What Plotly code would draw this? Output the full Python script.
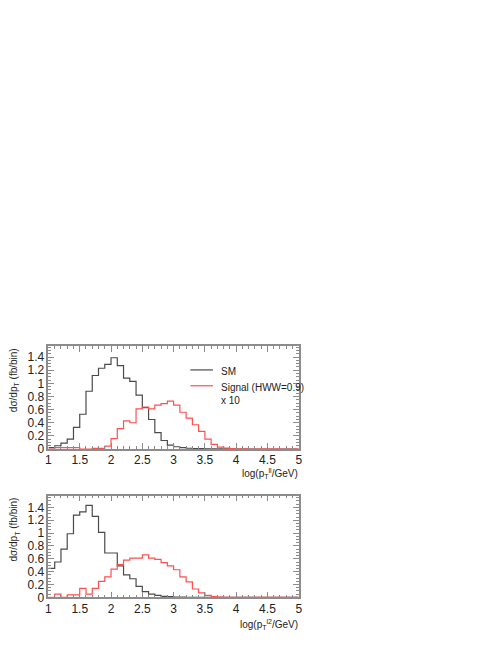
import plotly.graph_objects as go

# bin edges: 40 bins of 0.1 from 1.0 to 5.0
bin_edges = [round(1.0 + 0.1 * i, 1) for i in range(41)]

# upper panel: log(pT^ll/GeV)
sm_ll = [0.02, 0.05, 0.09, 0.15, 0.33, 0.53, 0.88, 1.12, 1.23, 1.29,
         1.39, 1.27, 1.08, 1.03, 0.82, 0.63, 0.45, 0.25, 0.13, 0.06,
         0.035, 0.02, 0.012, 0.008, 0.005, 0.004, 0.003, 0.002, 0.001, 0.001,
         0.0, 0.0, 0.0, 0.0, 0.0, 0.0, 0.0, 0.0, 0.0, 0.0]
sig_ll = [0.0, 0.02, 0.02, 0.02, 0.02, 0.0, 0.0, 0.01, 0.01, 0.045,
          0.16, 0.31, 0.43, 0.40, 0.61, 0.64, 0.61, 0.67, 0.69, 0.73,
          0.67, 0.56, 0.47, 0.37, 0.27, 0.15, 0.07, 0.03, 0.015, 0.008,
          0.004, 0.002, 0.0, 0.0, 0.0, 0.0, 0.0, 0.0, 0.0, 0.0]

# lower panel: log(pT^l2/GeV)
sm_l2 = [0.45, 0.55, 0.75, 0.99, 1.28, 1.33, 1.43, 1.26, 1.01, 0.69,
         0.69, 0.49, 0.35, 0.29, 0.17, 0.09, 0.05, 0.03, 0.015, 0.01,
         0.005, 0.003, 0.002, 0.001, 0.0, 0.0, 0.0, 0.0, 0.0, 0.0,
         0.0, 0.0, 0.0, 0.0, 0.0, 0.0, 0.0, 0.0, 0.0, 0.0]
sig_l2 = [0.0, 0.05, 0.0, 0.04, 0.04, 0.14, 0.05, 0.14, 0.25, 0.32,
          0.44, 0.51, 0.58, 0.61, 0.61, 0.66, 0.61, 0.59, 0.54, 0.49,
          0.43, 0.32, 0.24, 0.13, 0.07, 0.03, 0.01, 0.005, 0.0, 0.0,
          0.0, 0.0, 0.0, 0.0, 0.0, 0.0, 0.0, 0.0, 0.0, 0.0]

legend_labels = ["SM", "Signal (HWW=0.9)<br>x 10"]

SM_COLOR = "#4a4a4a"
SIG_COLOR = "#ff5050"
FRAME = "#8c8c8c"
FONT = "Liberation Sans, Arial, sans-serif"

# page body margin shifts the figure; measured offsets in the screenshot
OFF_X, OFF_Y = 8, 2
W, H = 498 - 16, 645 - 16


def px_x(p):
    return (p - OFF_X) / W


def px_y(p):
    return 1 - (p - OFF_Y) / H


def step(values):
    # histogram as hv step line over the bin edges
    return bin_edges, list(values) + [values[-1]]


fig = go.Figure()

for vals, color, ax in [
    (sm_ll, SM_COLOR, "y"),
    (sig_ll, SIG_COLOR, "y"),
    (sm_l2, SM_COLOR, "y2"),
    (sig_l2, SIG_COLOR, "y2"),
]:
    xs, ys = step(vals)
    fig.add_trace(go.Scatter(
        x=xs, y=ys, mode="lines", line=dict(shape="hv", color=color, width=1.2),
        showlegend=False, xaxis="x" if ax == "y" else "x2", yaxis=ax,
    ))

axis_common = dict(
    showline=True, linecolor=FRAME, linewidth=1.5, mirror="ticks",
    ticks="inside", ticklen=6, tickwidth=1, tickcolor=FRAME,
    showgrid=False, zeroline=False,
    tickfont=dict(family=FONT, size=12, color="#222"),
)

xdom = [px_x(46), px_x(300)]
xaxis_cfg = dict(axis_common, range=[1, 5], dtick=0.5, tick0=1, ticklabelstandoff=-1,
                 minor=dict(dtick=0.1, ticks="inside", ticklen=3, tickcolor=FRAME))
yaxis_cfg = dict(axis_common, dtick=0.2, tick0=0,
                 minor=dict(dtick=0.05, ticks="inside", ticklen=3, tickcolor=FRAME))

fig.update_layout(
    width=W, height=H,
    margin=dict(l=0, r=0, t=0, b=0),
    paper_bgcolor="white", plot_bgcolor="white",
    font=dict(family=FONT, size=10, color="#222"),
    xaxis=dict(xaxis_cfg, domain=xdom, anchor="y"),
    yaxis=dict(yaxis_cfg, domain=[px_y(448), px_y(344)], range=[0, 1.566], anchor="x"),
    xaxis2=dict(xaxis_cfg, domain=xdom, anchor="y2"),
    yaxis2=dict(yaxis_cfg, domain=[px_y(598), px_y(495)], range=[0, 1.585], anchor="x2"),
    showlegend=False,
)

# legend drawn in ROOT style: short line sample + text
for (label, color, ypx) in [(legend_labels[0], SM_COLOR, 368), (legend_labels[1], SIG_COLOR, 384)]:
    fig.add_shape(type="line", xref="paper", yref="paper",
                  x0=px_x(190), x1=px_x(213), y0=px_y(ypx), y1=px_y(ypx),
                  line=dict(color=color, width=1.2))
    fig.add_annotation(text=label, x=px_x(219), y=px_y(ypx - 6), xref="paper", yref="paper",
                       xanchor="left", yanchor="top", align="left", showarrow=False,
                       font=dict(family=FONT, size=10, color="#222"))

# axis titles as annotations (ROOT style placement)
titles = [
    ("log(p<sub>T</sub><sup>ll</sup>/GeV)", 473),
    ("log(p<sub>T</sub><sup>l2</sup>/GeV)", 625),
]
for text, ypx in titles:
    fig.add_annotation(text=text, x=px_x(301), y=px_y(ypx), xref="paper", yref="paper",
                       xanchor="right", yanchor="middle", showarrow=False,
                       font=dict(family=FONT, size=10, color="#222"))

for ytop in [344, 495]:
    fig.add_annotation(text="dσ/dp<sub>T</sub> (fb/bin)", x=px_x(11), y=px_y(ytop),
                       xref="paper", yref="paper", xanchor="center", yanchor="top",
                       textangle=-90, showarrow=False,
                       font=dict(family=FONT, size=10, color="#222"))

fig.write_html("out.html")
